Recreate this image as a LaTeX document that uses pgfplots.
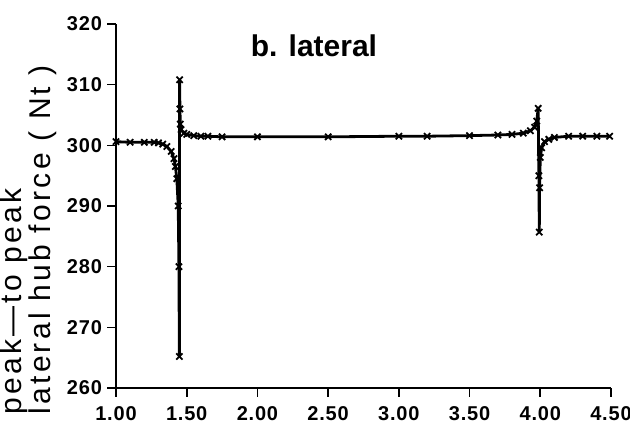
\documentclass[border=0pt]{standalone}
\usepackage{fontspec}
\setmainfont{Liberation Sans}
\usepackage{pgfplots}
\pgfplotsset{compat=1.18}
\begin{document}
\begin{tikzpicture}
\begin{axis}[
  scale only axis,
  width=247.5pt, height=182pt,
  xmin=1, xmax=4.5, ymin=260, ymax=320,
  axis x line*=bottom, axis y line*=left,
  xtick={1,1.5,2,2.5,3,3.5,4,4.5},
  ytick={260,270,280,290,300,310,320},
  xticklabel style={yshift=-1pt, /pgf/number format/fixed, /pgf/number format/fixed zerofill, /pgf/number format/precision=2},
  /pgf/number format/assume math mode=true,
  tick align=outside,
  major tick length=4.5pt,
  tick style={black, line width=0.8pt},
  axis line style={line width=1pt},
  ticklabel style={font=\fontsize{10}{12}\selectfont\bfseries\addfontfeature{LetterSpace=4}},
  yticklabel style={xshift=1pt},
  ylabel={peak---to peak\\lateral hub force ( Nt )},
  ylabel style={align=left, inner sep=0pt, font=\fontsize{15}{11}\selectfont\addfontfeature{LetterSpace=11},
    at={(axis description cs:-0.118,-0.074)}, anchor=south west},
  clip=false,
]
\addplot[black, line width=1.4pt, mark=x, mark size=2.2pt, mark options={line width=0.9pt}] coordinates {
(1.00,300.6) (1.10,300.5) (1.20,300.5) (1.27,300.5) (1.30,300.4) (1.33,300.2) (1.36,299.8)
(1.39,299.0) (1.41,297.8) (1.42,296.5) (1.43,294.5) (1.44,290.0) (1.445,280)
(1.448,265.2) (1.450,310.8) (1.452,306) (1.455,303.5) (1.46,302.6) (1.48,302.0)
(1.50,301.8) (1.55,301.6) (1.60,301.5) (1.65,301.5) (1.75,301.4) (2.00,301.4)
(2.50,301.4) (3.00,301.5) (3.20,301.5) (3.50,301.6) (3.70,301.7) (3.80,301.8)
(3.88,302.0) (3.93,302.4) (3.96,303.0) (3.975,304) (3.985,306.1) (3.99,295)
(3.993,285.7) (3.995,293) (4.00,298) (4.01,299.6) (4.03,300.6) (4.06,301.0)
(4.10,301.3) (4.20,301.5) (4.30,301.5) (4.40,301.5) (4.49,301.5)
};
\node[font=\fontsize{15}{15}\selectfont\bfseries] at (rel axis cs:0.40,0.94) {b. lateral};
\end{axis}
\pgfresetboundingbox
\path ([xshift=-58pt,yshift=-19pt]current axis.south west) rectangle ([xshift=9.5pt,yshift=12pt]current axis.north east);
\end{tikzpicture}
\end{document}
